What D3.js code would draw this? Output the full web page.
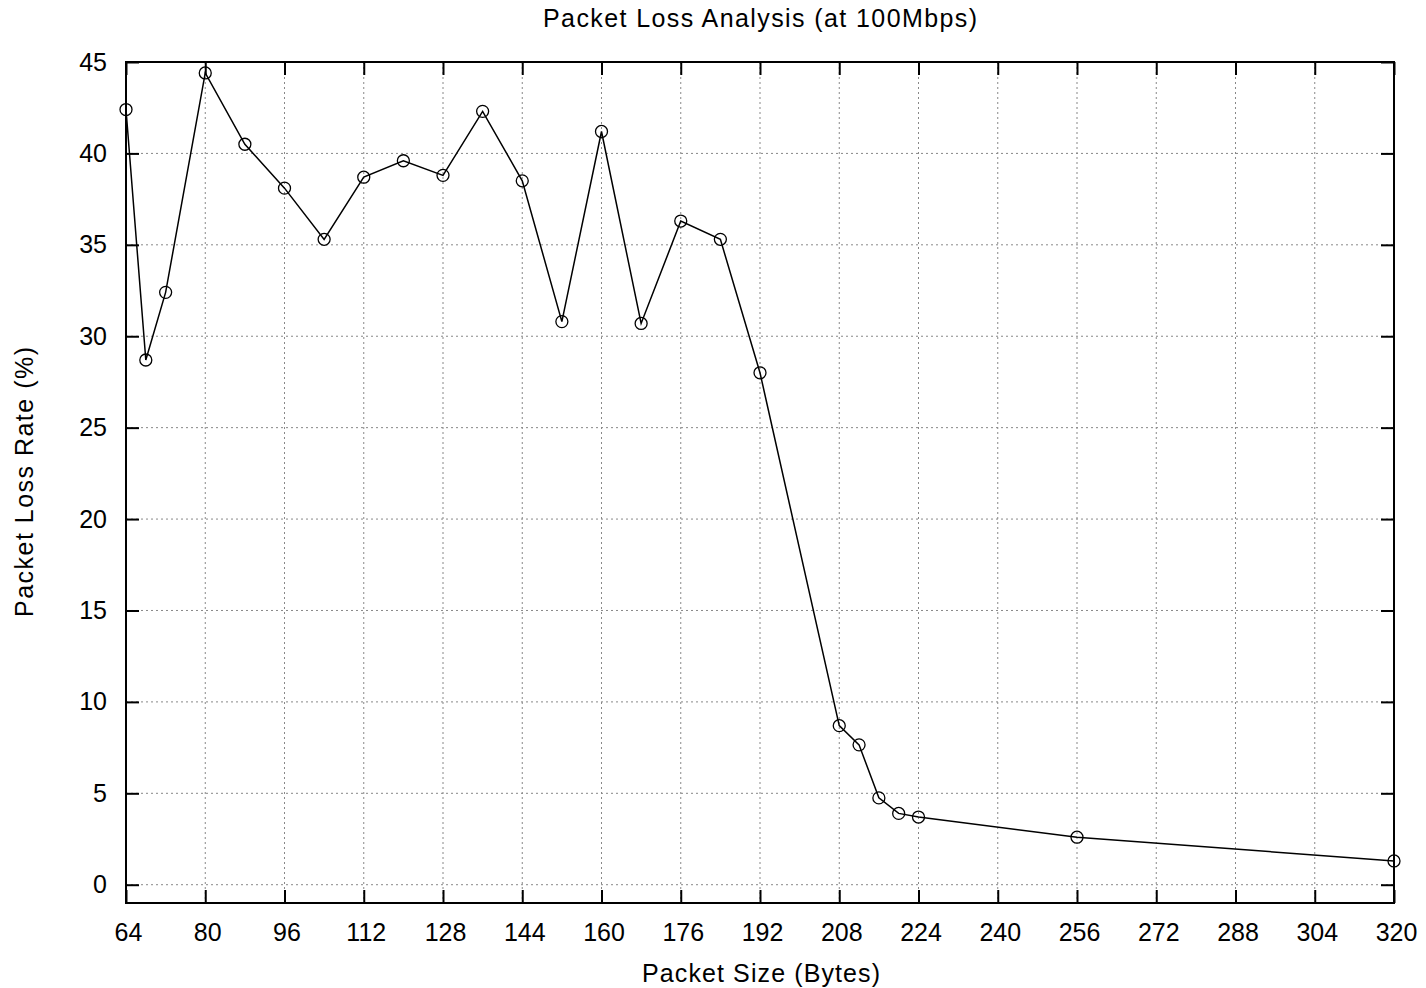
<!DOCTYPE html>
<html>
<head>
<meta charset="UTF-8">
<script src="https://d3js.org/d3.v7.min.js"></script>
<style>
  body { margin: 0; background: #fff; }
  text { font-family: "Liberation Sans", Arial, sans-serif; fill: #000; }
  .grid line { stroke: #888; stroke-width: 1; stroke-dasharray: 2,3; }
</style>
</head>
<body>
<svg id="chart" width="1426" height="988"></svg>
<script>
// packet size (bytes) and measured loss rate (%)
const packetSizes = [64, 68, 72, 80, 88, 96, 104, 112, 120, 128, 136, 144, 152, 160, 168, 176, 184, 192, 208, 212, 216, 220, 224, 256, 320];
const lossRates = [42.4, 28.7, 32.4, 44.4, 40.5, 38.1, 35.3, 38.7, 39.6, 38.8, 42.3, 38.5, 30.8, 41.2, 30.7, 36.3, 35.3, 28.0, 8.7, 7.65, 4.75, 3.9, 3.7, 2.6, 1.3];
const xTicks = [64, 80, 96, 112, 128, 144, 160, 176, 192, 208, 224, 240, 256, 272, 288, 304, 320];
const yTicks = [0, 5, 10, 15, 20, 25, 30, 35, 40, 45];

const svg = d3.select("#chart");
const pLeft = 126, pRight = 1394, pTop = 62, pBottom = 903;

const x = d3.scaleLinear().domain([64, 320]).range([pLeft, pRight]);
// 45 sits on the top border, -1 on the bottom one
const y = d3.scaleLinear().domain([-1, 45]).range([pBottom, pTop]);

// grid
const grid = svg.append("g").attr("class", "grid");
grid.selectAll(".gx").data(xTicks.slice(1, -1)).enter().append("line")
  .attr("x1", d => x(d)).attr("x2", d => x(d)).attr("y1", pTop).attr("y2", pBottom);
grid.selectAll(".gy").data(yTicks.slice(0, -1)).enter().append("line")
  .attr("x1", pLeft).attr("x2", pRight).attr("y1", d => y(d)).attr("y2", d => y(d));

// axes with inward ticks, mirrored
const tk = 13;
svg.append("g").attr("class", "xb").attr("transform", `translate(0,${pBottom})`)
  .call(d3.axisBottom(x).tickValues(xTicks).tickSizeInner(-tk).tickSizeOuter(0).tickPadding(20))
  .call(g => g.select(".domain").remove());
svg.append("g").attr("transform", `translate(0,${pTop})`)
  .call(d3.axisTop(x).tickValues(xTicks).tickSizeInner(-tk).tickSizeOuter(0).tickFormat(""))
  .call(g => g.select(".domain").remove());
svg.append("g").attr("transform", `translate(${pLeft},0)`)
  .call(d3.axisLeft(y).tickValues(yTicks).tickSizeInner(-tk).tickSizeOuter(0).tickPadding(19))
  .call(g => g.select(".domain").remove());
svg.append("g").attr("transform", `translate(${pRight},0)`)
  .call(d3.axisRight(y).tickValues(yTicks).tickSizeInner(-tk).tickSizeOuter(0).tickFormat(""))
  .call(g => g.select(".domain").remove());

svg.selectAll(".tick line").attr("stroke", "#000").attr("stroke-width", 2);
svg.selectAll(".tick text").attr("font-size", 25).attr("font-family", "Liberation Sans, Arial, sans-serif").attr("fill", "#000");
svg.selectAll(".xb .tick text").attr("dx", 2);

svg.append("rect").attr("x", pLeft).attr("y", pTop).attr("width", pRight - pLeft).attr("height", pBottom - pTop)
  .attr("fill", "none").attr("stroke", "#000").attr("stroke-width", 2);

// series
const pts = packetSizes.map((s, i) => [s, lossRates[i]]);
svg.append("path").datum(pts)
  .attr("fill", "none").attr("stroke", "#000").attr("stroke-width", 1.5)
  .attr("d", d3.line().x(d => x(d[0])).y(d => y(d[1])));
svg.selectAll(".pt").data(pts).enter().append("circle")
  .attr("cx", d => x(d[0])).attr("cy", d => y(d[1])).attr("r", 6)
  .attr("fill", "none").attr("stroke", "#000").attr("stroke-width", 1.3);

// labels
svg.append("text").attr("x", 760).attr("y", 27).attr("text-anchor", "middle")
  .attr("font-size", 25).attr("textLength", 434).attr("lengthAdjust", "spacing")
  .text("Packet Loss Analysis (at 100Mbps)");
svg.append("text").attr("x", 761).attr("y", 982).attr("text-anchor", "middle")
  .attr("font-size", 25).attr("textLength", 238).attr("lengthAdjust", "spacing")
  .text("Packet Size (Bytes)");
svg.append("text").attr("transform", "translate(33,482) rotate(-90)").attr("text-anchor", "middle")
  .attr("font-size", 25).attr("textLength", 270).attr("lengthAdjust", "spacing")
  .text("Packet Loss Rate (%)");
</script>
</body>
</html>
